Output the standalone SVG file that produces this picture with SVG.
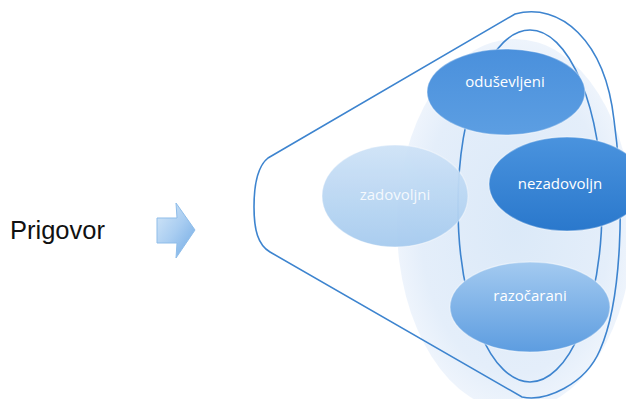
<svg xmlns="http://www.w3.org/2000/svg" width="626" height="399" viewBox="0 0 626 399">
<defs>
<radialGradient id="bg" cx="0.5" cy="0.5" r="0.5">
<stop offset="0" stop-color="#dbe9f8"/>
<stop offset="0.8" stop-color="#e4eefa"/>
<stop offset="1" stop-color="#eef4fc"/>
</radialGradient>
<linearGradient id="gDark" x1="0" y1="0" x2="0" y2="1">
<stop offset="0" stop-color="#4a93de"/>
<stop offset="1" stop-color="#2a78cc"/>
</linearGradient>
<linearGradient id="gMid" x1="0" y1="0" x2="0" y2="1">
<stop offset="0" stop-color="#4a90dc"/>
<stop offset="1" stop-color="#5c9ee2"/>
</linearGradient>
<linearGradient id="gPale" x1="0" y1="0" x2="0" y2="1">
<stop offset="0" stop-color="#cfe3f7"/>
<stop offset="1" stop-color="#a6cbef"/>
</linearGradient>
<linearGradient id="gRaz" x1="0" y1="0" x2="0" y2="1">
<stop offset="0" stop-color="#a3caf0"/>
<stop offset="1" stop-color="#5d9de0"/>
</linearGradient>
<linearGradient id="gArrow" x1="0" y1="0" x2="1" y2="1">
<stop offset="0" stop-color="#d6e8f8"/>
<stop offset="0.5" stop-color="#a9cdf1"/>
<stop offset="1" stop-color="#6fa9e4"/>
</linearGradient>
<style>
.ln{fill:none;stroke:#3d84cf;stroke-width:1.6}
.nd{stroke:#ffffff;stroke-opacity:0.35;stroke-width:1.5}
.lbl{font-family:"Open Sans","Liberation Sans",sans-serif;font-size:15px;fill:#ffffff;text-anchor:middle}
</style>
</defs>
<rect width="626" height="399" fill="#ffffff"/>
<text x="10" y="239" font-family="Liberation Sans, Arial, sans-serif" font-size="25.5" fill="#111111">Prigovor</text>
<g id="arrow">
<path d="M157,218 L177,218 L176,203 L195,230 L176,258 L177,243 L157,243 Z" fill="url(#gArrow)" stroke="#8fbde9" stroke-width="1"/>
</g>
<g id="background">
<ellipse cx="515" cy="225" rx="118" ry="186" fill="url(#bg)"/>
</g>
<g id="connectors">
<path class="ln" d="M268,158 L515,14 C560,2 605,40 614,120 C625,200 622,300 600,350 C585,385 545,402 522,397 L270,252 C258,245 254,230 254,207 C254,184 258,166 268,158 Z"/>
<ellipse class="ln" cx="530" cy="206" rx="72" ry="176"/>
</g>
<g id="node-zadovoljni">
<ellipse class="nd" cx="395" cy="196" rx="73" ry="51" fill="url(#gPale)" opacity="0.95"/>
<text class="lbl" x="395" y="200" fill-opacity="0.85">zadovoljni</text>
</g>
<g id="node-odusevljeni">
<ellipse class="nd" cx="506" cy="92" rx="79" ry="43" fill="url(#gMid)"/>
<text class="lbl" x="505" y="87">oduševljeni</text>
</g>
<g id="node-nezadovoljn">
<ellipse class="nd" cx="567" cy="184" rx="78" ry="47" fill="url(#gDark)"/>
<text class="lbl" x="560" y="189">nezadovoljn</text>
</g>
<g id="node-razocarani">
<ellipse class="nd" cx="530" cy="307" rx="80" ry="45" fill="url(#gRaz)"/>
<text class="lbl" x="530" y="301">razočarani</text>
</g>
</svg>
